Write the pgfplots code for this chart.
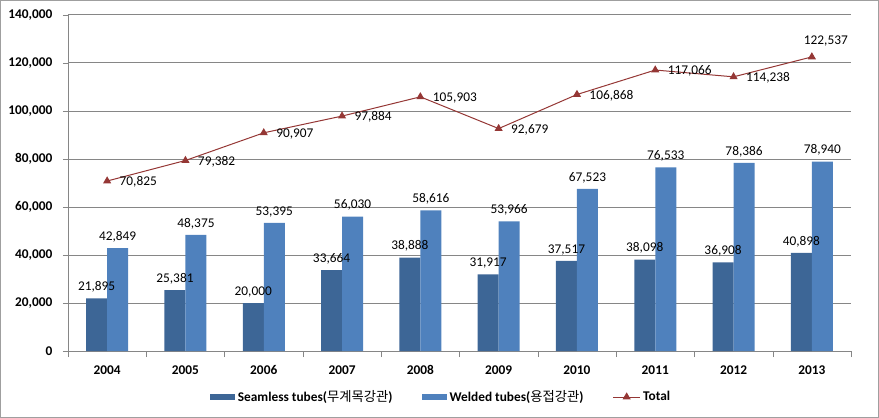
\documentclass[border=0pt]{standalone}
\usepackage{pgfplots}
\pgfplotsset{compat=1.18}
\usepackage{fontspec}
\setmainfont{Carlito}
\newfontfamily\kr{Noto Sans CJK KR}
\definecolor{seam}{HTML}{3D6696}
\definecolor{weld}{HTML}{4F81BD}
\definecolor{tot}{HTML}{953735}
\definecolor{gridc}{HTML}{868686}
\pgfkeys{/pgf/number format/.cd, assume math mode=true, fixed, 1000 sep={,}, precision=0}
\pgfplotsset{
  barleg/.style={legend image code/.code={\fill[##1] (0pt,-2.6pt) rectangle (18.75pt,2.6pt);}},
  lineleg/.style={legend image code/.code={\draw[##1, mark repeat=2, mark phase=2] plot coordinates {(0pt,0pt) (10pt,0pt) (20pt,0pt)};}},
}

\begin{document}
\begin{tikzpicture}
\useasboundingbox (-51pt,-50.25pt) rectangle (608.25pt,263.25pt);
\draw[color=gray!75, line width=1pt] (-50.5pt,-49.75pt) rectangle (607.75pt,262.75pt);
\begin{axis}[
  scale only axis, width=587.25pt, height=252pt,
  xmin=-0.5, xmax=9.5, ymin=0, ymax=140000,
  ytick={0,20000,...,140000},
  xtick={0,...,9},
  xticklabels={2004,2005,2006,2007,2008,2009,2010,2011,2012,2013},
  minor xtick={-0.5,0.5,...,9.5},
  axis lines=left, axis line style={gridc, -},
  ymajorgrids, grid style={gridc, line width=0.75pt},
  tick align=outside,
  major tick length=3.75pt, minor tick length=4.5pt,
  major x tick style={draw=none},
  minor x tick style={gridc},
  y tick style={gridc},
  ticklabel style={font=\bfseries},
  yticklabel style={xshift=-4.5pt},
  xticklabel style={yshift=-3.75pt},
  scaled y ticks=false,
  ybar=0pt, bar width=15.75pt,
  clip=false,
  legend style={at={(0.477,-0.137)}, anchor=center, draw=none, fill=none,
    legend columns=3, font=\bfseries,
    /tikz/every even column/.append style={column sep=20pt}},
]
\addplot[fill=seam, draw=none, barleg,
  nodes near coords, every node near coord/.append style={text=black, font=\normalfont, yshift=1pt}]
  coordinates {(0,21895)(1,25381)(2,20000)(3,33664)(4,38888)(5,31917)(6,37517)(7,38098)(8,36908)(9,40898)};
\addlegendentry{Seamless tubes({\kr\mdseries 무계목강관})}
\addplot[fill=weld, draw=none, barleg,
  nodes near coords, every node near coord/.append style={text=black, font=\normalfont, yshift=1pt}]
  coordinates {(0,42849)(1,48375)(2,53395)(3,56030)(4,58616)(5,53966)(6,67523)(7,76533)(8,78386)(9,78940)};
\addlegendentry{Welded tubes({\kr\mdseries 용접강관})}
\addplot[sharp plot, tot, line width=0.75pt, mark=triangle*, mark size=2.8pt,
  mark options={fill=tot, solid}, lineleg,
  nodes near coords, point meta=y,
  visualization depends on={value \thisrow{anc} \as \anc},
  visualization depends on={\thisrow{xs} \as \xs},
  visualization depends on={\thisrow{ys} \as \ys},
  every node near coord/.append style={anchor=\anc, xshift=\xs pt, yshift=\ys pt, text=black, font=\normalfont}]
  table[x=x, y=y] {
x y anc xs ys
0 70825 west 5.7 -0.75
1 79382 west 5.7 -0.75
2 90907 west 5.7 -0.75
3 97884 west 5.7 -0.75
4 105903 west 5.7 -0.75
5 92679 west 5.7 -0.75
6 106868 west 5.7 -0.75
7 117066 west 5.7 -0.75
8 114238 west 5.7 -0.75
9 122537 south 10.5 4
};
\addlegendentry{Total}
\end{axis}
\end{tikzpicture}
\end{document}
